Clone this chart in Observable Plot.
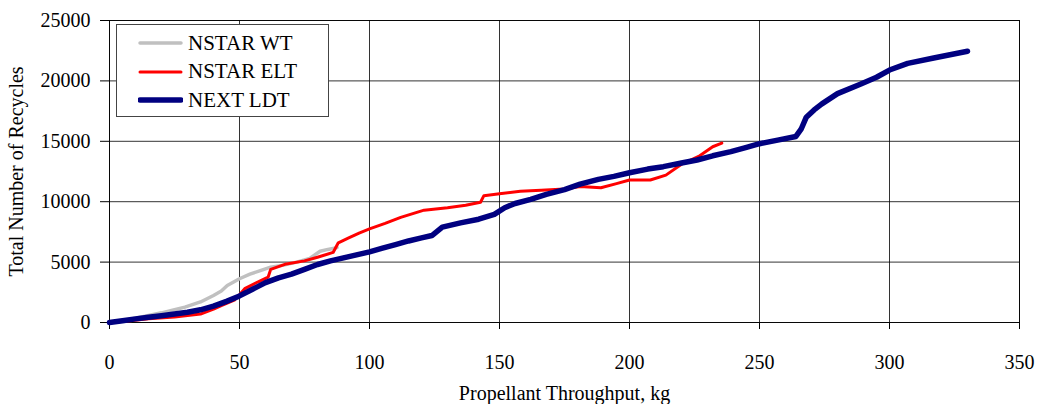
<!DOCTYPE html>
<html>
<head>
<meta charset="utf-8">
<script src="https://cdn.jsdelivr.net/npm/d3@7"></script>
<script src="https://cdn.jsdelivr.net/npm/@observablehq/plot@0.6"></script>
<style>
  html, body { margin: 0; padding: 0; background: #fff; }
  #wrap { position: relative; width: 1040px; height: 404px; overflow: hidden; }
  #wrap svg text { font-family: "Liberation Serif", "Times New Roman", serif; }
  #legend {
    position: absolute; left: 116px; top: 24px; width: 213px; height: 93px;
    border: 1px solid #444; background: #fff; box-sizing: border-box;
    font-family: "Liberation Serif", "Times New Roman", serif; font-size: 21px; color: #000;
  }
  .row { position: absolute; left: 0; height: 28px; display: flex; align-items: center; }
  .row svg { margin-left: 21px; margin-right: 5px; }
</style>
</head>
<body>
<div id="wrap"></div>
<script>
// Series data (Propellant Throughput, kg -> Total Number of Recycles)
const wtX  = [0, 5, 10, 15, 20, 25, 29, 35, 40, 43, 45.3, 50, 54, 58, 62, 67, 72, 77, 81, 84, 87.5];
const wtY  = [0, 150, 350, 580, 800, 1050, 1270, 1700, 2240, 2600, 3060, 3620, 4000, 4300, 4580, 4750, 5000, 5300, 5900, 6050, 6200];

const eltX = [0, 8, 15, 25, 35, 40, 43, 48, 50, 52, 57, 61, 62, 68, 75, 80, 86, 88, 92, 96, 100, 106, 112, 121, 130, 137, 142.7, 144, 150, 158, 166, 175, 181, 189, 195, 200, 208, 214, 220, 227, 232, 235.5];
const eltY = [0, 150, 300, 450, 700, 1100, 1400, 1850, 2300, 2800, 3350, 3750, 4400, 4850, 5100, 5400, 5800, 6600, 7000, 7400, 7750, 8200, 8700, 9300, 9500, 9700, 9950, 10500, 10650, 10870, 10950, 11050, 11260, 11150, 11500, 11800, 11800, 12200, 13100, 13800, 14550, 14850];

const ldtX = [0, 5, 10, 15, 20, 25, 30, 35, 40, 45, 50, 55, 60, 65, 70, 75, 80, 85, 90, 95, 100, 105, 110, 115, 120, 124, 128, 135, 142, 148, 152, 156, 162, 168, 175, 181, 188, 194, 200, 207, 213, 220, 226, 232, 239, 245, 250, 257, 264, 266, 268, 271, 274, 280, 289, 295, 300, 307, 317, 330];
const ldtY = [0, 150, 300, 430, 560, 700, 850, 1050, 1350, 1750, 2200, 2750, 3300, 3700, 4000, 4400, 4800, 5100, 5350, 5600, 5850, 6150, 6450, 6750, 7000, 7200, 7900, 8250, 8550, 8950, 9500, 9850, 10200, 10600, 11000, 11450, 11850, 12100, 12400, 12700, 12900, 13200, 13450, 13800, 14150, 14500, 14800, 15100, 15400, 16000, 17000, 17600, 18100, 18950, 19750, 20300, 20900, 21450, 21900, 22450];

const seriesNames = ["NSTAR WT", "NSTAR ELT", "NEXT LDT"];
const seriesColors = ["#c0c0c0", "#ff0000", "#000080"];
const seriesWidths = [3.5, 3, 5.5];

const xTicks = [0, 50, 100, 150, 200, 250, 300, 350];
const yTicks = [0, 5000, 10000, 15000, 20000, 25000];

const toRows = (xs, ys) => xs.map((x, i) => ({x, y: ys[i]}));
const wt = toRows(wtX, wtY), elt = toRows(eltX, eltY), ldt = toRows(ldtX, ldtY);

const chart = Plot.plot({
  width: 1040,
  height: 404,
  marginLeft: 109,
  marginRight: 21,
  marginTop: 20,
  marginBottom: 82,
  style: { fontFamily: "'Liberation Serif', 'Times New Roman', serif", fontSize: "20px", background: "#fff", color: "#000" },
  x: { domain: [0, 350], ticks: xTicks },
  y: { domain: [0, 25000], ticks: yTicks },
  marks: [
    Plot.gridX(xTicks, { stroke: "#000", strokeOpacity: 0.8 }),
    Plot.gridY(yTicks, { stroke: "#000", strokeOpacity: 0.8 }),
    Plot.frame({ stroke: "#000", strokeOpacity: 0.85 }),
    Plot.axisX({ ticks: xTicks, tickSize: 7, tickPadding: 25, tickFormat: d => String(d),
      label: "Propellant Throughput, kg", labelAnchor: "center", labelArrow: "none", labelOffset: 77 }),
    Plot.axisY({ ticks: yTicks, tickSize: 9, tickPadding: 10, tickFormat: d => String(d),
      label: "Total Number of Recycles", labelAnchor: "center", labelArrow: "none", labelOffset: 101 }),
    Plot.line(wt, { x: "x", y: "y", stroke: seriesColors[0], strokeWidth: seriesWidths[0] }),
    Plot.line(elt, { x: "x", y: "y", stroke: seriesColors[1], strokeWidth: seriesWidths[1] }),
    Plot.line(ldt, { x: "x", y: "y", stroke: seriesColors[2], strokeWidth: seriesWidths[2] })
  ]
});

const wrap = document.getElementById("wrap");
wrap.appendChild(chart);

const legend = document.createElement("div");
legend.id = "legend";
seriesNames.forEach((name, i) => {
  const row = document.createElement("div");
  row.className = "row";
  row.style.top = (4 + i * 28.5) + "px";
  row.innerHTML = `<svg width="45" height="8"><line x1="2" y1="4" x2="43" y2="4" stroke="${seriesColors[i]}" stroke-width="${seriesWidths[i]}" stroke-linecap="round"/></svg><span>${name}</span>`;
  legend.appendChild(row);
});
wrap.appendChild(legend);
</script>
</body>
</html>
